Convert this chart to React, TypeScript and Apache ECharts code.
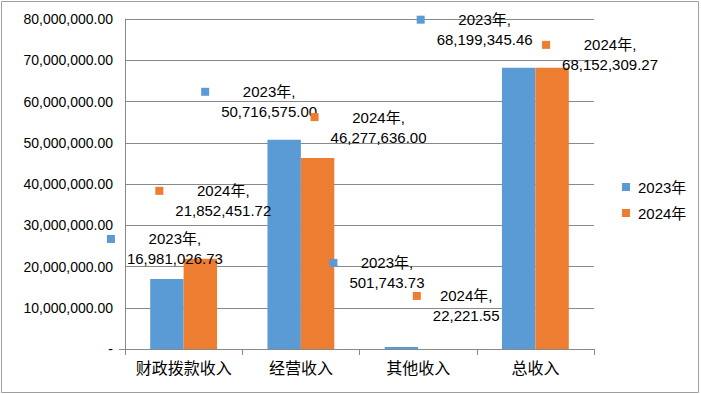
import React, { useEffect, useRef } from "react";
import * as echarts from "echarts";

const categories = ["财政拨款收入", "经营收入", "其他收入", "总收入"];
const seriesNames = ["2023年", "2024年"];
const values2023 = [16981026.73, 50716575.0, 501743.73, 68199345.46];
const values2024 = [21852451.72, 46277636.0, 22221.55, 68152309.27];
const yTicks = { min: 0, max: 80000000, interval: 10000000 };

// label placement (style only): offsets from bar top centre
const offsets2023 = [[-60, -50], [-83, -58], [-72, -94], [-102, -58]];
const offsets2024 = [[-45, -78], [-7, -51], [-22, -63], [-10, -33]];

const colors = ["#5B9BD5", "#ED7D31"];
const LATIN = "'Liberation Sans', 'Noto Sans CJK SC', sans-serif";

function fmt(v: number): string {
  if (v === 0) return "-";
  return v.toLocaleString("en-US", { minimumFractionDigits: 2, maximumFractionDigits: 2 });
}

function makeSeries(idx: number, values: number[], offsets: number[][]) {
  const name = seriesNames[idx];
  const color = colors[idx];
  return {
    name,
    type: "bar",
    barGap: "0%",
    barCategoryGap: "43%",
    itemStyle: { color },
    data: values.map((v, i) => ({
      value: v,
      label: {
        show: true,
        position: "top",
        distance: 0,
        align: "left",
        verticalAlign: "top",
        offset: offsets[i],
        formatter: () => `{sq|}{g|}{t|${name},}\n{sp|}{t|${fmt(v)}}`,
        rich: {
          sq: { width: 8, height: 8, backgroundColor: color, align: "left", verticalAlign: "middle" },
          g: { width: 12, height: 8, align: "left" },
          sp: { width: 20, height: 8, align: "left" },
          t: { fontSize: 15, fontFamily: LATIN, color: "#000", align: "center", lineHeight: 20 },
        },
      },
    })),
  };
}

export default function App() {
  const ref = useRef<HTMLDivElement>(null);
  useEffect(() => {
    document.body.style.margin = "0";
    const chart = echarts.init(ref.current!, null, { renderer: "svg" });
    chart.setOption({
      animation: false,
      backgroundColor: "#ffffff",
      grid: { left: 125, right: 107, top: 19, bottom: 45, containLabel: false },
      legend: {
        orient: "vertical",
        left: 617,
        top: 173,
        itemWidth: 8,
        itemHeight: 8,
        itemGap: 8,
        icon: "rect",
        data: seriesNames,
        textStyle: { fontSize: 15, fontFamily: LATIN, color: "#000", lineHeight: 18, padding: [0, 0, 0, 3] },
      },
      xAxis: {
        type: "category",
        data: categories,
        axisLine: { lineStyle: { color: "#898989", width: 1 } },
        axisTick: { show: true, length: 6, lineStyle: { color: "#898989" } },
        axisLabel: {
          interval: 0,
          fontSize: 16,
          fontFamily: "'Noto Sans CJK SC', sans-serif",
          color: "#000",
          margin: 10,
        },
      },
      yAxis: {
        type: "value",
        min: yTicks.min,
        max: yTicks.max,
        interval: yTicks.interval,
        axisLine: { show: true, lineStyle: { color: "#898989", width: 1 } },
        axisTick: { show: false },
        splitLine: { lineStyle: { color: "#898989", width: 1 } },
        axisLabel: { fontSize: 14, fontFamily: LATIN, color: "#000", margin: 12, formatter: (v: number) => fmt(v) },
      },
      graphic: [
        {
          type: "rect",
          shape: { x: 1.5, y: 1.5, width: 697, height: 391 },
          style: { fill: "none", stroke: "#a0a0a0", lineWidth: 1 },
          silent: true,
        },
        {
          type: "line",
          shape: { x1: 119, y1: 349.5, x2: 125, y2: 349.5 },
          style: { stroke: "#898989", lineWidth: 1 },
          silent: true,
        },
      ],
      series: [makeSeries(0, values2023, offsets2023), makeSeries(1, values2024, offsets2024)],
    });
    return () => chart.dispose();
  }, []);
  return <div ref={ref} style={{ width: 701, height: 394 }} />;
}
